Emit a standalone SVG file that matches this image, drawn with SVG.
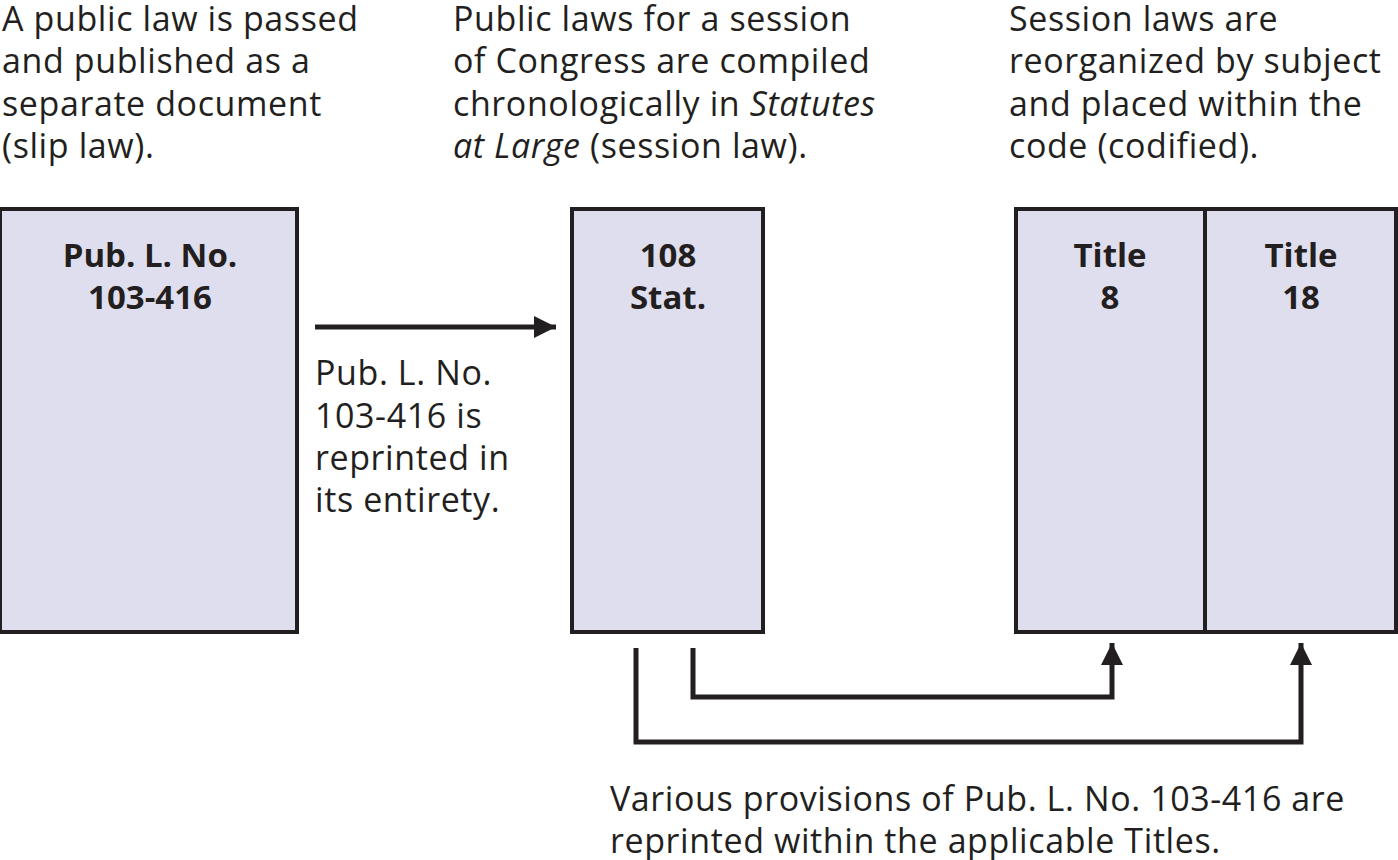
<svg xmlns="http://www.w3.org/2000/svg" width="1398" height="860" viewBox="0 0 1398 860">
<defs>
<style>
.t{font-family:"Open Sans","Noto Sans",sans-serif;font-size:34px;letter-spacing:0.6px;fill:#231f20}
.b{font-family:"Open Sans","Noto Sans",sans-serif;font-size:33px;font-weight:bold;fill:#231f20;text-anchor:middle}
.box{fill:#dfdeee;stroke:#231f20;stroke-width:4}
.ln{fill:none;stroke:#231f20;stroke-width:5}
</style>
<marker id="ah" viewBox="0 0 10 10" refX="10" refY="5" markerWidth="4.4" markerHeight="4.4" orient="auto" markerUnits="strokeWidth">
<path d="M0,0 L10,5 L0,10 z" fill="#231f20"/>
</marker>
</defs>
<rect width="1398" height="860" fill="#fff"/>
<g id="caption1"><text class="t" x="2" y="31">A public law is passed</text><text class="t" x="2" y="73">and published as a</text><text class="t" x="2" y="116">separate document</text><text class="t" x="2" y="158">(slip law).</text></g>
<g id="caption2"><text class="t" x="453" y="31">Public laws for a session</text><text class="t" x="453" y="73">of Congress are compiled</text><text class="t" x="453" y="116">chronologically in <tspan font-style="italic">Statutes</tspan></text><text class="t" x="453" y="158"><tspan font-style="italic">at Large</tspan> (session law).</text></g>
<g id="caption3"><text class="t" x="1009" y="31">Session laws are</text><text class="t" x="1009" y="73">reorganized by subject</text><text class="t" x="1009" y="116">and placed within the</text><text class="t" x="1009" y="158">code (codified).</text></g>
<g id="slip-law"><rect class="box" x="0" y="209" width="297" height="423"/><text class="b" x="150" y="267">Pub. L. No.</text><text class="b" x="150" y="309">103-416</text></g>
<g id="statutes"><rect class="box" x="572" y="209" width="191" height="423"/><text class="b" x="668" y="267">108</text><text class="b" x="668" y="309">Stat.</text></g>
<g id="title8"><rect class="box" x="1016" y="209" width="189" height="423"/><text class="b" x="1110" y="267">Title</text><text class="b" x="1110" y="309">8</text></g>
<g id="title18"><rect class="box" x="1205" y="209" width="191" height="423"/><text class="b" x="1301" y="267">Title</text><text class="b" x="1301" y="309">18</text></g>
<g id="connectors">
<line class="ln" x1="315" y1="327" x2="556" y2="327" marker-end="url(#ah)"/>
<polyline class="ln" points="693,648 693,697 1112,697 1112,643" marker-end="url(#ah)"/>
<polyline class="ln" points="636,648 636,742 1301,742 1301,643" marker-end="url(#ah)"/>
</g>
<g id="label-arrow"><text class="t" x="315" y="385">Pub. L. No.</text><text class="t" x="315" y="428">103-416 is</text><text class="t" x="315" y="470">reprinted in</text><text class="t" x="315" y="512">its entirety.</text></g>
<g id="label-bottom"><text class="t" x="610" y="811">Various provisions of Pub. L. No. 103-416 are</text><text class="t" x="610" y="853">reprinted within the applicable Titles.</text></g>
</svg>
